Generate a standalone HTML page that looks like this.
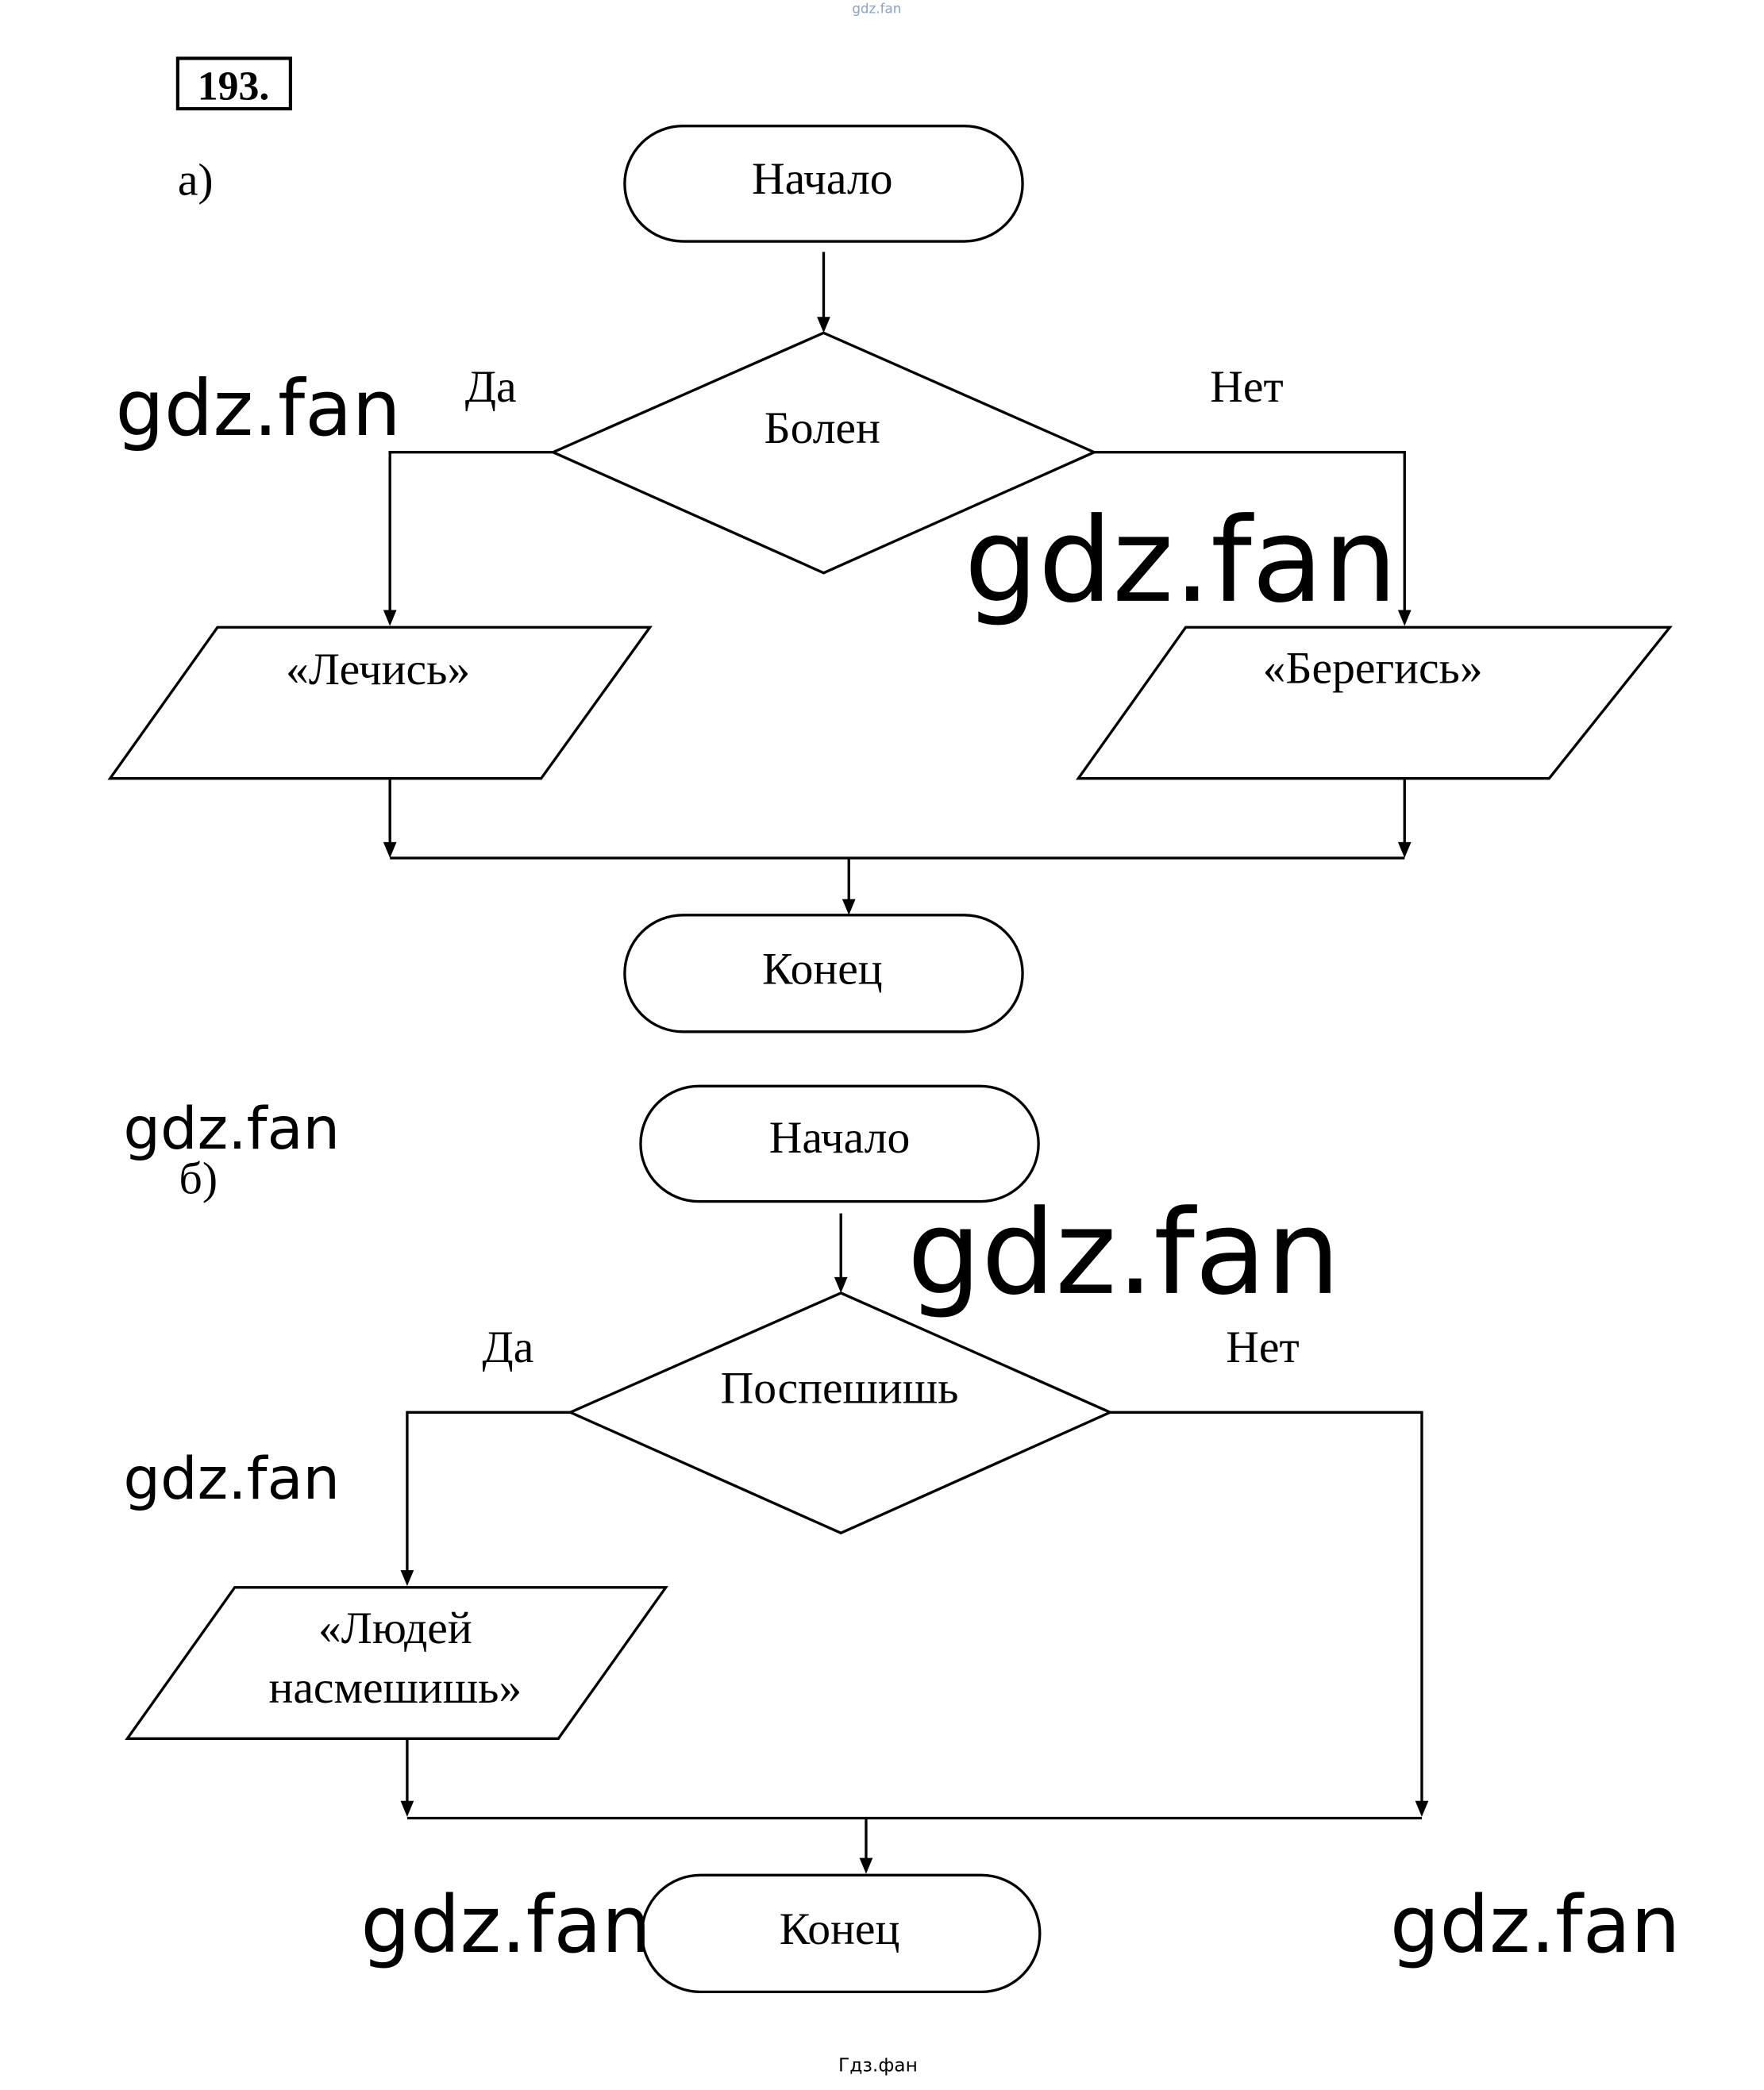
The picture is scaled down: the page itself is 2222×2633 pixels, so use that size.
<!DOCTYPE html>
<html><head><meta charset="utf-8">
<style>
html,body{margin:0;padding:0;background:#fff;}
svg{display:block;}
.s{font-family:"Liberation Serif","DejaVu Serif",serif;font-size:34.5px;fill:#000;}
.w{font-family:"DejaVu Sans","Liberation Sans",sans-serif;fill:#000;}
</style></head><body>
<svg width="2222" height="2633" viewBox="0 0 1330 1576" preserveAspectRatio="none" xmlns="http://www.w3.org/2000/svg">
<rect width="1330" height="1576" fill="#fff"/>
<text x="661" y="10" font-family="DejaVu Sans,sans-serif" font-size="10" fill="#8aa0d0" text-anchor="middle">gdz.fan</text>
<rect x="134" y="44" width="85" height="38" fill="none" stroke="#000" stroke-width="2.5"/>
<text x="176" y="75" font-family="Liberation Serif,serif" font-weight="bold" font-size="31" text-anchor="middle">193.</text>
<text x="134" y="147" class="s">а)</text>

<g fill="none" stroke="#000" stroke-width="2">
<rect x="471" y="95" width="300" height="87" rx="44"/>
<polygon points="621,251 825,341 621,432 417,341"/>
<polyline points="417,341 294,341 294,463"/>
<polyline points="825,341 1059,341 1059,463"/>
<polygon points="164,473 490,473 408,587 83,587"/>
<polygon points="894,473 1259,473 1168,587 813,587"/>
<line x1="621" y1="190" x2="621" y2="241"/>
<line x1="294" y1="587" x2="294" y2="638"/>
<line x1="1059" y1="587" x2="1059" y2="638"/>
<line x1="294" y1="647" x2="1059" y2="647"/>
<line x1="640" y1="647" x2="640" y2="681"/>
<rect x="471" y="690" width="300" height="88" rx="44"/>

<rect x="483" y="819" width="300" height="87" rx="44"/>
<line x1="634" y1="915" x2="634" y2="966"/>
<polygon points="634,975 837,1065 634,1156 430,1065"/>
<polyline points="430,1065 307,1065 307,1187"/>
<polyline points="837,1065 1072,1065 1072,1361"/>
<polygon points="177,1197 502,1197 421,1311 96,1311"/>
<line x1="307" y1="1311" x2="307" y2="1361"/>
<line x1="307" y1="1371" x2="1072" y2="1371"/>
<line x1="653" y1="1371" x2="653" y2="1404"/>
<rect x="484" y="1414" width="300" height="88" rx="44"/>
</g>
<g fill="#000">
<path d="M616,239 L626,239 L621,251 Z"/>
<path d="M289,460 L299,460 L294,472 Z"/>
<path d="M1054,460 L1064,460 L1059,472 Z"/>
<path d="M289,635 L299,635 L294,647 Z"/>
<path d="M1054,635 L1064,635 L1059,647 Z"/>
<path d="M635,678 L645,678 L640,690 Z"/>
<path d="M629,963 L639,963 L634,975 Z"/>
<path d="M302,1184 L312,1184 L307,1196 Z"/>
<path d="M302,1358 L312,1358 L307,1370 Z"/>
<path d="M1067,1358 L1077,1358 L1072,1370 Z"/>
<path d="M648,1401 L658,1401 L653,1413 Z"/>
</g>

<g class="s" text-anchor="middle">
<text x="620" y="146">Начало</text>
<text x="620" y="334">Болен</text>
<text x="370" y="303">Да</text>
<text x="940" y="303">Нет</text>
<text x="285" y="516">«Лечись»</text>
<text x="1035" y="515">«Берегись»</text>
<text x="620" y="742">Конец</text>
<text x="633" y="869">Начало</text>
<text x="633" y="1058">Поспешишь</text>
<text x="383" y="1027">Да</text>
<text x="952" y="1027">Нет</text>
<text x="298" y="1239">«Людей</text>
<text x="298" y="1284">насмешишь»</text>
<text x="633" y="1466">Конец</text>
</g>
<text x="135" y="900" class="s">б)</text>

<text x="87" y="328" class="w" font-size="58">gdz.fan</text>
<text x="727" y="453" class="w" font-size="88">gdz.fan</text>
<text x="93" y="866" class="w" font-size="44">gdz.fan</text>
<text x="684" y="975" class="w" font-size="88">gdz.fan</text>
<text x="93" y="1130" class="w" font-size="44">gdz.fan</text>
<text x="272" y="1472" class="w" font-size="59">gdz.fan</text>
<text x="1048" y="1472" class="w" font-size="59">gdz.fan</text>
<text x="662" y="1562" font-family="DejaVu Sans,sans-serif" font-size="14" text-anchor="middle">Гдз.фан</text>
</svg>
</body></html>
